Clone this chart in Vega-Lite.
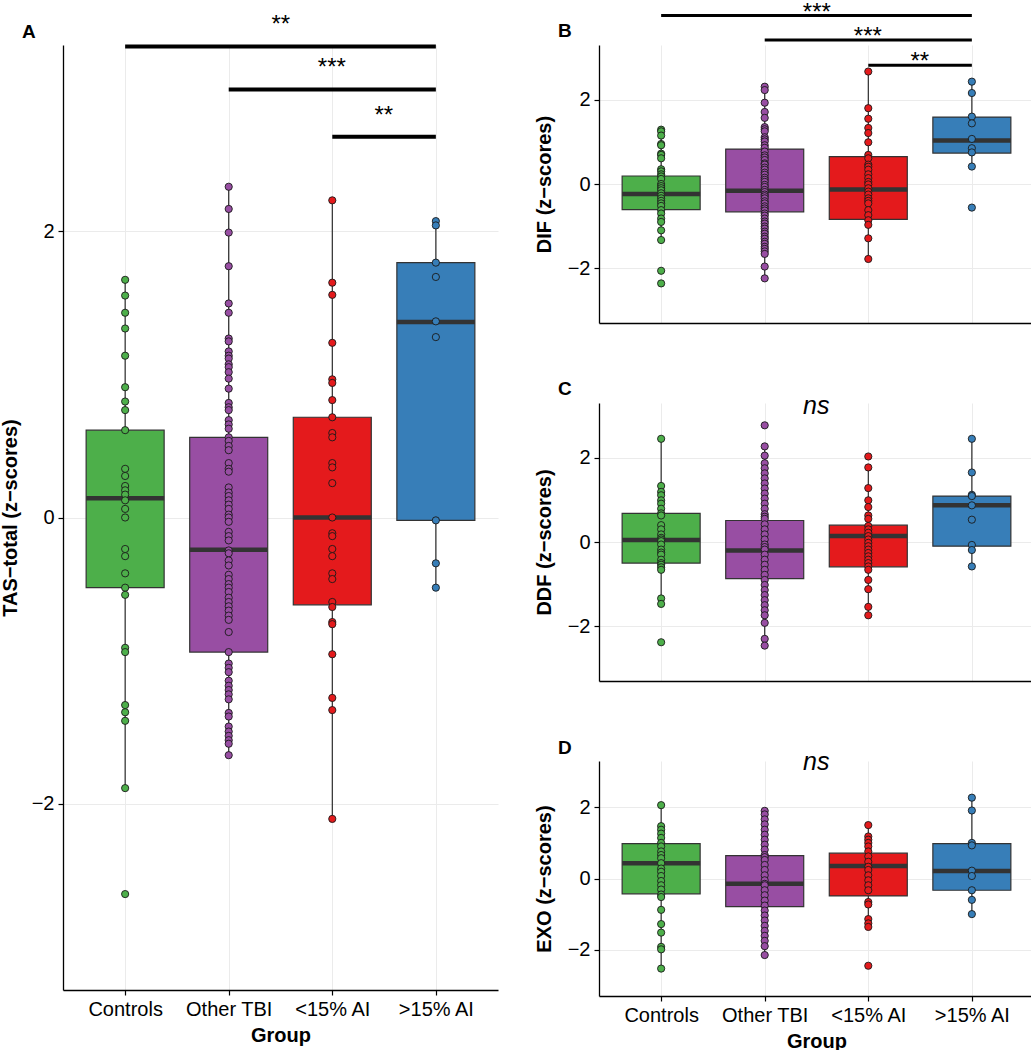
{
  "$schema": "https://vega.github.io/schema/vega-lite/v6.json",
  "padding": {"left": 0, "top": 0, "right": 0, "bottom": 0},
  "bounds": "flush",
  "spacing": 101,
  "config": {
    "font": "Liberation Sans",
    "view": {"stroke": null},
    "axis": {"domainColor": "#000000", "domainWidth": 1.3, "tickColor": "#000000", "tickWidth": 1.2, "tickSize": 5, "labelColor": "#000000", "labelFontSize": 20, "labelFont": "Liberation Sans", "titleFont": "Liberation Sans", "titleFontSize": 20, "titleFontWeight": "bold", "titleColor": "#000000", "gridColor": "#EBEBEB", "gridWidth": 1, "labelPadding": 4, "titlePadding": 13},
    "title": {"anchor": "start", "frame": "group", "dx": -41, "fontSize": 19, "fontWeight": "bold", "color": "#000000", "font": "Liberation Sans"}
  },
  "datasets": {
    "box": [
      {"panel":"A","group":"Controls","q1":-0.49,"med":0.135,"q3":0.61,"lo":-1.89,"hi":1.66},
      {"panel":"A","group":"Other TBI","q1":-0.94,"med":-0.225,"q3":0.56,"lo":-1.66,"hi":2.31},
      {"panel":"A","group":"<15% AI","q1":-0.61,"med":0.0,"q3":0.70,"lo":-2.105,"hi":2.215},
      {"panel":"A","group":">15% AI","q1":-0.02,"med":1.365,"q3":1.78,"lo":-0.49,"hi":2.07},
      {"panel":"B","group":"Controls","q1":-0.61,"med":-0.24,"q3":0.19,"lo":-1.33,"hi":1.29},
      {"panel":"B","group":"Other TBI","q1":-0.66,"med":-0.16,"q3":0.83,"lo":-2.24,"hi":2.31},
      {"panel":"B","group":"<15% AI","q1":-0.84,"med":-0.13,"q3":0.65,"lo":-1.78,"hi":2.67},
      {"panel":"B","group":">15% AI","q1":0.735,"med":1.03,"q3":1.59,"lo":0.415,"hi":2.43},
      {"panel":"C","group":"Controls","q1":-0.50,"med":0.05,"q3":0.68,"lo":-1.47,"hi":2.45},
      {"panel":"C","group":"Other TBI","q1":-0.87,"med":-0.20,"q3":0.51,"lo":-2.46,"hi":2.27},
      {"panel":"C","group":"<15% AI","q1":-0.59,"med":0.14,"q3":0.40,"lo":-1.74,"hi":1.77},
      {"panel":"C","group":">15% AI","q1":-0.10,"med":0.87,"q3":1.09,"lo":-0.58,"hi":2.45},
      {"panel":"D","group":"Controls","q1":-0.43,"med":0.43,"q3":0.98,"lo":-2.53,"hi":2.06},
      {"panel":"D","group":"Other TBI","q1":-0.79,"med":-0.15,"q3":0.64,"lo":-2.15,"hi":1.90},
      {"panel":"D","group":"<15% AI","q1":-0.49,"med":0.35,"q3":0.71,"lo":-1.36,"hi":1.50},
      {"panel":"D","group":">15% AI","q1":-0.33,"med":0.21,"q3":0.98,"lo":-1.00,"hi":2.27}
    ],
    "sig": [
      {"panel":"A","g1":"Controls","g2":">15% AI","height":3.29,"label":"**"},
      {"panel":"A","g1":"Other TBI","g2":">15% AI","height":2.99,"label":"***"},
      {"panel":"A","g1":"<15% AI","g2":">15% AI","height":2.66,"label":"**"},
      {"panel":"B","g1":"Controls","g2":">15% AI","height":4.0,"label":"***"},
      {"panel":"B","g1":"Other TBI","g2":">15% AI","height":3.42,"label":"***"},
      {"panel":"B","g1":"<15% AI","g2":">15% AI","height":2.82,"label":"**"}
    ],
    "pts": [
      {"panel":"A","group":"Controls","z":1.66},{"panel":"A","group":"Controls","z":1.55},{"panel":"A","group":"Controls","z":1.43},{"panel":"A","group":"Controls","z":1.32},{"panel":"A","group":"Controls","z":1.13},{"panel":"A","group":"Controls","z":0.91},{"panel":"A","group":"Controls","z":0.81},{"panel":"A","group":"Controls","z":0.75},{"panel":"A","group":"Controls","z":0.61},{"panel":"A","group":"Controls","z":0.34},{"panel":"A","group":"Controls","z":0.29},{"panel":"A","group":"Controls","z":0.22},{"panel":"A","group":"Controls","z":0.19},{"panel":"A","group":"Controls","z":0.16},{"panel":"A","group":"Controls","z":0.12},{"panel":"A","group":"Controls","z":0.06},{"panel":"A","group":"Controls","z":0.0},{"panel":"A","group":"Controls","z":-0.22},{"panel":"A","group":"Controls","z":-0.27},{"panel":"A","group":"Controls","z":-0.39},{"panel":"A","group":"Controls","z":-0.49},{"panel":"A","group":"Controls","z":-0.54},{"panel":"A","group":"Controls","z":-0.91},{"panel":"A","group":"Controls","z":-0.94},{"panel":"A","group":"Controls","z":-1.31},{"panel":"A","group":"Controls","z":-1.36},{"panel":"A","group":"Controls","z":-1.42},{"panel":"A","group":"Controls","z":-1.89},{"panel":"A","group":"Controls","z":-2.63},
      {"panel":"A","group":"Other TBI","z":2.31},{"panel":"A","group":"Other TBI","z":2.155},{"panel":"A","group":"Other TBI","z":1.99},{"panel":"A","group":"Other TBI","z":1.755},{"panel":"A","group":"Other TBI","z":1.495},{"panel":"A","group":"Other TBI","z":1.43},{"panel":"A","group":"Other TBI","z":1.25},{"panel":"A","group":"Other TBI","z":1.23},{"panel":"A","group":"Other TBI","z":1.16},{"panel":"A","group":"Other TBI","z":1.13},{"panel":"A","group":"Other TBI","z":1.11},{"panel":"A","group":"Other TBI","z":1.07},{"panel":"A","group":"Other TBI","z":1.05},{"panel":"A","group":"Other TBI","z":1.015},{"panel":"A","group":"Other TBI","z":0.97},{"panel":"A","group":"Other TBI","z":0.90},{"panel":"A","group":"Other TBI","z":0.80},{"panel":"A","group":"Other TBI","z":0.77},{"panel":"A","group":"Other TBI","z":0.75},{"panel":"A","group":"Other TBI","z":0.68},{"panel":"A","group":"Other TBI","z":0.65},{"panel":"A","group":"Other TBI","z":0.62},{"panel":"A","group":"Other TBI","z":0.56},{"panel":"A","group":"Other TBI","z":0.535},{"panel":"A","group":"Other TBI","z":0.50},{"panel":"A","group":"Other TBI","z":0.47},{"panel":"A","group":"Other TBI","z":0.38},{"panel":"A","group":"Other TBI","z":0.34},{"panel":"A","group":"Other TBI","z":0.32},{"panel":"A","group":"Other TBI","z":0.21},{"panel":"A","group":"Other TBI","z":0.175},{"panel":"A","group":"Other TBI","z":0.15},{"panel":"A","group":"Other TBI","z":0.12},{"panel":"A","group":"Other TBI","z":0.09},{"panel":"A","group":"Other TBI","z":0.06},{"panel":"A","group":"Other TBI","z":0.02},{"panel":"A","group":"Other TBI","z":0.0},{"panel":"A","group":"Other TBI","z":-0.03},{"panel":"A","group":"Other TBI","z":-0.10},{"panel":"A","group":"Other TBI","z":-0.13},{"panel":"A","group":"Other TBI","z":-0.16},{"panel":"A","group":"Other TBI","z":-0.23},{"panel":"A","group":"Other TBI","z":-0.25},{"panel":"A","group":"Other TBI","z":-0.30},{"panel":"A","group":"Other TBI","z":-0.335},{"panel":"A","group":"Other TBI","z":-0.40},{"panel":"A","group":"Other TBI","z":-0.43},{"panel":"A","group":"Other TBI","z":-0.465},{"panel":"A","group":"Other TBI","z":-0.49},{"panel":"A","group":"Other TBI","z":-0.52},{"panel":"A","group":"Other TBI","z":-0.56},{"panel":"A","group":"Other TBI","z":-0.59},{"panel":"A","group":"Other TBI","z":-0.62},{"panel":"A","group":"Other TBI","z":-0.65},{"panel":"A","group":"Other TBI","z":-0.685},{"panel":"A","group":"Other TBI","z":-0.715},{"panel":"A","group":"Other TBI","z":-0.80},{"panel":"A","group":"Other TBI","z":-0.94},{"panel":"A","group":"Other TBI","z":-1.02},{"panel":"A","group":"Other TBI","z":-1.05},{"panel":"A","group":"Other TBI","z":-1.08},{"panel":"A","group":"Other TBI","z":-1.14},{"panel":"A","group":"Other TBI","z":-1.175},{"panel":"A","group":"Other TBI","z":-1.205},{"panel":"A","group":"Other TBI","z":-1.235},{"panel":"A","group":"Other TBI","z":-1.27},{"panel":"A","group":"Other TBI","z":-1.365},{"panel":"A","group":"Other TBI","z":-1.39},{"panel":"A","group":"Other TBI","z":-1.46},{"panel":"A","group":"Other TBI","z":-1.495},{"panel":"A","group":"Other TBI","z":-1.525},{"panel":"A","group":"Other TBI","z":-1.555},{"panel":"A","group":"Other TBI","z":-1.58},{"panel":"A","group":"Other TBI","z":-1.66},
      {"panel":"A","group":"<15% AI","z":2.215},{"panel":"A","group":"<15% AI","z":1.64},{"panel":"A","group":"<15% AI","z":1.555},{"panel":"A","group":"<15% AI","z":1.22},{"panel":"A","group":"<15% AI","z":0.965},{"panel":"A","group":"<15% AI","z":0.94},{"panel":"A","group":"<15% AI","z":0.82},{"panel":"A","group":"<15% AI","z":0.70},{"panel":"A","group":"<15% AI","z":0.59},{"panel":"A","group":"<15% AI","z":0.56},{"panel":"A","group":"<15% AI","z":0.38},{"panel":"A","group":"<15% AI","z":0.35},{"panel":"A","group":"<15% AI","z":0.24},{"panel":"A","group":"<15% AI","z":0.0},{"panel":"A","group":"<15% AI","z":-0.11},{"panel":"A","group":"<15% AI","z":-0.13},{"panel":"A","group":"<15% AI","z":-0.22},{"panel":"A","group":"<15% AI","z":-0.27},{"panel":"A","group":"<15% AI","z":-0.39},{"panel":"A","group":"<15% AI","z":-0.43},{"panel":"A","group":"<15% AI","z":-0.59},{"panel":"A","group":"<15% AI","z":-0.625},{"panel":"A","group":"<15% AI","z":-0.73},{"panel":"A","group":"<15% AI","z":-0.745},{"panel":"A","group":"<15% AI","z":-0.955},{"panel":"A","group":"<15% AI","z":-1.26},{"panel":"A","group":"<15% AI","z":-1.345},{"panel":"A","group":"<15% AI","z":-2.105},
      {"panel":"A","group":">15% AI","z":2.07},{"panel":"A","group":">15% AI","z":2.04},{"panel":"A","group":">15% AI","z":1.78},{"panel":"A","group":">15% AI","z":1.68},{"panel":"A","group":">15% AI","z":1.37},{"panel":"A","group":">15% AI","z":1.26},{"panel":"A","group":">15% AI","z":-0.02},{"panel":"A","group":">15% AI","z":-0.32},{"panel":"A","group":">15% AI","z":-0.49},
      {"panel":"B","group":"Controls","z":1.29},{"panel":"B","group":"Controls","z":1.25},{"panel":"B","group":"Controls","z":1.15},{"panel":"B","group":"Controls","z":0.95},{"panel":"B","group":"Controls","z":0.92},{"panel":"B","group":"Controls","z":0.72},{"panel":"B","group":"Controls","z":0.69},{"panel":"B","group":"Controls","z":0.61},{"panel":"B","group":"Controls","z":0.35},{"panel":"B","group":"Controls","z":0.30},{"panel":"B","group":"Controls","z":0.23},{"panel":"B","group":"Controls","z":0.18},{"panel":"B","group":"Controls","z":0.12},{"panel":"B","group":"Controls","z":0.0},{"panel":"B","group":"Controls","z":-0.05},{"panel":"B","group":"Controls","z":-0.10},{"panel":"B","group":"Controls","z":-0.15},{"panel":"B","group":"Controls","z":-0.22},{"panel":"B","group":"Controls","z":-0.28},{"panel":"B","group":"Controls","z":-0.34},{"panel":"B","group":"Controls","z":-0.40},{"panel":"B","group":"Controls","z":-0.46},{"panel":"B","group":"Controls","z":-0.52},{"panel":"B","group":"Controls","z":-0.62},{"panel":"B","group":"Controls","z":-0.70},{"panel":"B","group":"Controls","z":-0.82},{"panel":"B","group":"Controls","z":-0.90},{"panel":"B","group":"Controls","z":-1.10},{"panel":"B","group":"Controls","z":-1.33},{"panel":"B","group":"Controls","z":-2.06},{"panel":"B","group":"Controls","z":-2.36},
      {"panel":"B","group":"Other TBI","z":2.31},{"panel":"B","group":"Other TBI","z":2.23},{"panel":"B","group":"Other TBI","z":1.93},{"panel":"B","group":"Other TBI","z":1.71},{"panel":"B","group":"Other TBI","z":1.57},{"panel":"B","group":"Other TBI","z":1.35},{"panel":"B","group":"Other TBI","z":1.30},{"panel":"B","group":"Other TBI","z":1.25},{"panel":"B","group":"Other TBI","z":1.11},{"panel":"B","group":"Other TBI","z":1.06},{"panel":"B","group":"Other TBI","z":1.01},{"panel":"B","group":"Other TBI","z":0.92},{"panel":"B","group":"Other TBI","z":0.86},{"panel":"B","group":"Other TBI","z":0.77},{"panel":"B","group":"Other TBI","z":0.68},{"panel":"B","group":"Other TBI","z":0.63},{"panel":"B","group":"Other TBI","z":0.57},{"panel":"B","group":"Other TBI","z":0.49},{"panel":"B","group":"Other TBI","z":0.46},{"panel":"B","group":"Other TBI","z":0.39},{"panel":"B","group":"Other TBI","z":0.34},{"panel":"B","group":"Other TBI","z":0.27},{"panel":"B","group":"Other TBI","z":0.22},{"panel":"B","group":"Other TBI","z":0.15},{"panel":"B","group":"Other TBI","z":0.10},{"panel":"B","group":"Other TBI","z":0.05},{"panel":"B","group":"Other TBI","z":-0.02},{"panel":"B","group":"Other TBI","z":-0.07},{"panel":"B","group":"Other TBI","z":-0.14},{"panel":"B","group":"Other TBI","z":-0.19},{"panel":"B","group":"Other TBI","z":-0.25},{"panel":"B","group":"Other TBI","z":-0.29},{"panel":"B","group":"Other TBI","z":-0.34},{"panel":"B","group":"Other TBI","z":-0.41},{"panel":"B","group":"Other TBI","z":-0.46},{"panel":"B","group":"Other TBI","z":-0.53},{"panel":"B","group":"Other TBI","z":-0.58},{"panel":"B","group":"Other TBI","z":-0.63},{"panel":"B","group":"Other TBI","z":-0.70},{"panel":"B","group":"Other TBI","z":-0.75},{"panel":"B","group":"Other TBI","z":-0.82},{"panel":"B","group":"Other TBI","z":-0.89},{"panel":"B","group":"Other TBI","z":-0.94},{"panel":"B","group":"Other TBI","z":-1.01},{"panel":"B","group":"Other TBI","z":-1.06},{"panel":"B","group":"Other TBI","z":-1.13},{"panel":"B","group":"Other TBI","z":-1.18},{"panel":"B","group":"Other TBI","z":-1.25},{"panel":"B","group":"Other TBI","z":-1.30},{"panel":"B","group":"Other TBI","z":-1.37},{"panel":"B","group":"Other TBI","z":-1.42},{"panel":"B","group":"Other TBI","z":-1.49},{"panel":"B","group":"Other TBI","z":-1.54},{"panel":"B","group":"Other TBI","z":-1.60},{"panel":"B","group":"Other TBI","z":-1.66},{"panel":"B","group":"Other TBI","z":-1.96},{"panel":"B","group":"Other TBI","z":-2.24},
      {"panel":"B","group":"<15% AI","z":2.67},{"panel":"B","group":"<15% AI","z":1.80},{"panel":"B","group":"<15% AI","z":1.55},{"panel":"B","group":"<15% AI","z":1.33},{"panel":"B","group":"<15% AI","z":1.21},{"panel":"B","group":"<15% AI","z":0.99},{"panel":"B","group":"<15% AI","z":0.69},{"panel":"B","group":"<15% AI","z":0.61},{"panel":"B","group":"<15% AI","z":0.46},{"panel":"B","group":"<15% AI","z":0.41},{"panel":"B","group":"<15% AI","z":0.34},{"panel":"B","group":"<15% AI","z":0.23},{"panel":"B","group":"<15% AI","z":0.14},{"panel":"B","group":"<15% AI","z":0.05},{"panel":"B","group":"<15% AI","z":-0.01},{"panel":"B","group":"<15% AI","z":-0.10},{"panel":"B","group":"<15% AI","z":-0.18},{"panel":"B","group":"<15% AI","z":-0.25},{"panel":"B","group":"<15% AI","z":-0.34},{"panel":"B","group":"<15% AI","z":-0.40},{"panel":"B","group":"<15% AI","z":-0.46},{"panel":"B","group":"<15% AI","z":-0.62},{"panel":"B","group":"<15% AI","z":-0.74},{"panel":"B","group":"<15% AI","z":-0.86},{"panel":"B","group":"<15% AI","z":-0.97},{"panel":"B","group":"<15% AI","z":-1.29},{"panel":"B","group":"<15% AI","z":-1.78},
      {"panel":"B","group":">15% AI","z":2.43},{"panel":"B","group":">15% AI","z":2.16},{"panel":"B","group":">15% AI","z":1.60},{"panel":"B","group":">15% AI","z":1.44},{"panel":"B","group":">15% AI","z":1.07},{"panel":"B","group":">15% AI","z":0.85},{"panel":"B","group":">15% AI","z":0.75},{"panel":"B","group":">15% AI","z":0.415},{"panel":"B","group":">15% AI","z":-0.56},
      {"panel":"C","group":"Controls","z":2.45},{"panel":"C","group":"Controls","z":1.33},{"panel":"C","group":"Controls","z":1.19},{"panel":"C","group":"Controls","z":1.11},{"panel":"C","group":"Controls","z":0.99},{"panel":"C","group":"Controls","z":0.91},{"panel":"C","group":"Controls","z":0.79},{"panel":"C","group":"Controls","z":0.68},{"panel":"C","group":"Controls","z":0.63},{"panel":"C","group":"Controls","z":0.40},{"panel":"C","group":"Controls","z":0.30},{"panel":"C","group":"Controls","z":0.18},{"panel":"C","group":"Controls","z":0.10},{"panel":"C","group":"Controls","z":0.06},{"panel":"C","group":"Controls","z":0.02},{"panel":"C","group":"Controls","z":-0.06},{"panel":"C","group":"Controls","z":-0.18},{"panel":"C","group":"Controls","z":-0.25},{"panel":"C","group":"Controls","z":-0.30},{"panel":"C","group":"Controls","z":-0.42},{"panel":"C","group":"Controls","z":-0.50},{"panel":"C","group":"Controls","z":-0.54},{"panel":"C","group":"Controls","z":-0.60},{"panel":"C","group":"Controls","z":-0.66},{"panel":"C","group":"Controls","z":-1.34},{"panel":"C","group":"Controls","z":-1.47},{"panel":"C","group":"Controls","z":-2.38},
      {"panel":"C","group":"Other TBI","z":2.77},{"panel":"C","group":"Other TBI","z":2.27},{"panel":"C","group":"Other TBI","z":2.05},{"panel":"C","group":"Other TBI","z":1.87},{"panel":"C","group":"Other TBI","z":1.75},{"panel":"C","group":"Other TBI","z":1.63},{"panel":"C","group":"Other TBI","z":1.51},{"panel":"C","group":"Other TBI","z":1.39},{"panel":"C","group":"Other TBI","z":1.27},{"panel":"C","group":"Other TBI","z":1.15},{"panel":"C","group":"Other TBI","z":1.03},{"panel":"C","group":"Other TBI","z":0.91},{"panel":"C","group":"Other TBI","z":0.79},{"panel":"C","group":"Other TBI","z":0.66},{"panel":"C","group":"Other TBI","z":0.60},{"panel":"C","group":"Other TBI","z":0.55},{"panel":"C","group":"Other TBI","z":0.42},{"panel":"C","group":"Other TBI","z":0.30},{"panel":"C","group":"Other TBI","z":0.18},{"panel":"C","group":"Other TBI","z":0.06},{"panel":"C","group":"Other TBI","z":-0.06},{"panel":"C","group":"Other TBI","z":-0.12},{"panel":"C","group":"Other TBI","z":-0.18},{"panel":"C","group":"Other TBI","z":-0.30},{"panel":"C","group":"Other TBI","z":-0.42},{"panel":"C","group":"Other TBI","z":-0.54},{"panel":"C","group":"Other TBI","z":-0.66},{"panel":"C","group":"Other TBI","z":-0.78},{"panel":"C","group":"Other TBI","z":-0.90},{"panel":"C","group":"Other TBI","z":-1.02},{"panel":"C","group":"Other TBI","z":-1.14},{"panel":"C","group":"Other TBI","z":-1.26},{"panel":"C","group":"Other TBI","z":-1.38},{"panel":"C","group":"Other TBI","z":-1.50},{"panel":"C","group":"Other TBI","z":-1.62},{"panel":"C","group":"Other TBI","z":-1.74},{"panel":"C","group":"Other TBI","z":-1.92},{"panel":"C","group":"Other TBI","z":-2.30},{"panel":"C","group":"Other TBI","z":-2.46},
      {"panel":"C","group":"<15% AI","z":2.03},{"panel":"C","group":"<15% AI","z":1.77},{"panel":"C","group":"<15% AI","z":1.28},{"panel":"C","group":"<15% AI","z":0.99},{"panel":"C","group":"<15% AI","z":0.83},{"panel":"C","group":"<15% AI","z":0.63},{"panel":"C","group":"<15% AI","z":0.55},{"panel":"C","group":"<15% AI","z":0.38},{"panel":"C","group":"<15% AI","z":0.30},{"panel":"C","group":"<15% AI","z":0.22},{"panel":"C","group":"<15% AI","z":0.14},{"panel":"C","group":"<15% AI","z":0.06},{"panel":"C","group":"<15% AI","z":-0.02},{"panel":"C","group":"<15% AI","z":-0.10},{"panel":"C","group":"<15% AI","z":-0.18},{"panel":"C","group":"<15% AI","z":-0.26},{"panel":"C","group":"<15% AI","z":-0.34},{"panel":"C","group":"<15% AI","z":-0.42},{"panel":"C","group":"<15% AI","z":-0.50},{"panel":"C","group":"<15% AI","z":-0.58},{"panel":"C","group":"<15% AI","z":-0.66},{"panel":"C","group":"<15% AI","z":-0.90},{"panel":"C","group":"<15% AI","z":-1.12},{"panel":"C","group":"<15% AI","z":-1.54},{"panel":"C","group":"<15% AI","z":-1.74},
      {"panel":"C","group":">15% AI","z":2.45},{"panel":"C","group":">15% AI","z":1.65},{"panel":"C","group":">15% AI","z":1.12},{"panel":"C","group":">15% AI","z":1.09},{"panel":"C","group":">15% AI","z":0.87},{"panel":"C","group":">15% AI","z":0.53},{"panel":"C","group":">15% AI","z":-0.07},{"panel":"C","group":">15% AI","z":-0.19},{"panel":"C","group":">15% AI","z":-0.58},
      {"panel":"D","group":"Controls","z":2.06},{"panel":"D","group":"Controls","z":1.47},{"panel":"D","group":"Controls","z":1.37},{"panel":"D","group":"Controls","z":1.26},{"panel":"D","group":"Controls","z":1.14},{"panel":"D","group":"Controls","z":1.00},{"panel":"D","group":"Controls","z":0.90},{"panel":"D","group":"Controls","z":0.76},{"panel":"D","group":"Controls","z":0.66},{"panel":"D","group":"Controls","z":0.57},{"panel":"D","group":"Controls","z":0.43},{"panel":"D","group":"Controls","z":0.28},{"panel":"D","group":"Controls","z":0.19},{"panel":"D","group":"Controls","z":0.07},{"panel":"D","group":"Controls","z":-0.07},{"panel":"D","group":"Controls","z":-0.19},{"panel":"D","group":"Controls","z":-0.31},{"panel":"D","group":"Controls","z":-0.45},{"panel":"D","group":"Controls","z":-0.52},{"panel":"D","group":"Controls","z":-0.88},{"panel":"D","group":"Controls","z":-1.28},{"panel":"D","group":"Controls","z":-1.52},{"panel":"D","group":"Controls","z":-1.92},{"panel":"D","group":"Controls","z":-1.99},{"panel":"D","group":"Controls","z":-2.53},
      {"panel":"D","group":"Other TBI","z":1.90},{"panel":"D","group":"Other TBI","z":1.80},{"panel":"D","group":"Other TBI","z":1.66},{"panel":"D","group":"Other TBI","z":1.52},{"panel":"D","group":"Other TBI","z":1.37},{"panel":"D","group":"Other TBI","z":1.23},{"panel":"D","group":"Other TBI","z":1.09},{"panel":"D","group":"Other TBI","z":0.95},{"panel":"D","group":"Other TBI","z":0.81},{"panel":"D","group":"Other TBI","z":0.66},{"panel":"D","group":"Other TBI","z":0.60},{"panel":"D","group":"Other TBI","z":0.52},{"panel":"D","group":"Other TBI","z":0.38},{"panel":"D","group":"Other TBI","z":0.24},{"panel":"D","group":"Other TBI","z":0.09},{"panel":"D","group":"Other TBI","z":-0.05},{"panel":"D","group":"Other TBI","z":-0.15},{"panel":"D","group":"Other TBI","z":-0.19},{"panel":"D","group":"Other TBI","z":-0.33},{"panel":"D","group":"Other TBI","z":-0.47},{"panel":"D","group":"Other TBI","z":-0.62},{"panel":"D","group":"Other TBI","z":-0.76},{"panel":"D","group":"Other TBI","z":-0.90},{"panel":"D","group":"Other TBI","z":-1.04},{"panel":"D","group":"Other TBI","z":-1.18},{"panel":"D","group":"Other TBI","z":-1.33},{"panel":"D","group":"Other TBI","z":-1.47},{"panel":"D","group":"Other TBI","z":-1.61},{"panel":"D","group":"Other TBI","z":-1.75},{"panel":"D","group":"Other TBI","z":-1.90},{"panel":"D","group":"Other TBI","z":-2.15},
      {"panel":"D","group":"<15% AI","z":1.50},{"panel":"D","group":"<15% AI","z":1.18},{"panel":"D","group":"<15% AI","z":1.09},{"panel":"D","group":"<15% AI","z":1.00},{"panel":"D","group":"<15% AI","z":0.90},{"panel":"D","group":"<15% AI","z":0.76},{"panel":"D","group":"<15% AI","z":0.62},{"panel":"D","group":"<15% AI","z":0.47},{"panel":"D","group":"<15% AI","z":0.33},{"panel":"D","group":"<15% AI","z":0.24},{"panel":"D","group":"<15% AI","z":0.09},{"panel":"D","group":"<15% AI","z":-0.05},{"panel":"D","group":"<15% AI","z":-0.19},{"panel":"D","group":"<15% AI","z":-0.33},{"panel":"D","group":"<15% AI","z":-0.66},{"panel":"D","group":"<15% AI","z":-0.73},{"panel":"D","group":"<15% AI","z":-1.14},{"panel":"D","group":"<15% AI","z":-1.26},{"panel":"D","group":"<15% AI","z":-1.36},{"panel":"D","group":"<15% AI","z":-2.45},
      {"panel":"D","group":">15% AI","z":2.27},{"panel":"D","group":">15% AI","z":1.91},{"panel":"D","group":">15% AI","z":1.00},{"panel":"D","group":">15% AI","z":0.93},{"panel":"D","group":">15% AI","z":0.22},{"panel":"D","group":">15% AI","z":0.07},{"panel":"D","group":">15% AI","z":-0.33},{"panel":"D","group":">15% AI","z":-0.60},{"panel":"D","group":">15% AI","z":-1.00}
    ]
  },
  "hconcat": [
    {
      "title": {"text": "A", "offset": -29},
      "width": 435, "height": 945,
      "layer": [
        {"data": {"name": "box"}, "transform": [{"filter": "datum.panel === 'A'"}],
         "mark": {"type": "rule", "color": "#1a1a1a", "strokeWidth": 1.1},
         "encoding": {
           "x": {"field": "group", "type": "nominal", "sort": null, "scale": {"type": "point", "padding": 0.6, "domain": ["Controls", "Other TBI", "<15% AI", ">15% AI"]}, "axis": {"title": "Group", "grid": true, "labelAngle": 0, "labelPadding": 4, "titlePadding": 6}},
           "y": {"field": "lo", "type": "quantitative", "scale": {"domain": [-3.3, 3.3], "nice": false, "zero": false}, "axis": {"title": "TAS−total (z−scores)", "values": [-2, 0, 2], "format": "d", "grid": true, "titlePadding": 11}},
           "y2": {"field": "hi"}}},
        {"data": {"name": "box"}, "transform": [{"filter": "datum.panel === 'A'"}],
         "mark": {"type": "bar", "width": 78, "stroke": "#333333", "strokeWidth": 1.2, "opacity": 1},
         "encoding": {
           "x": {"field": "group", "type": "nominal", "sort": null},
           "y": {"field": "q1", "type": "quantitative"}, "y2": {"field": "q3"},
           "color": {"field": "group", "type": "nominal", "scale": {"domain": ["Controls", "Other TBI", "<15% AI", ">15% AI"], "range": ["#4DAF4A", "#984EA3", "#E41A1C", "#377EB8"]}, "legend": null}}},
        {"data": {"name": "box"}, "transform": [{"filter": "datum.panel === 'A'"}],
         "mark": {"type": "tick", "color": "#333333", "size": 78, "thickness": 4.5, "opacity": 1},
         "encoding": {"x": {"field": "group", "type": "nominal", "sort": null}, "y": {"field": "med", "type": "quantitative"}}},
        {"data": {"name": "pts"}, "transform": [{"filter": "datum.panel === 'A'"}],
         "mark": {"type": "circle", "size": 52, "stroke": "#1a1a1a", "strokeWidth": 0.9, "opacity": 1},
         "encoding": {"x": {"field": "group", "type": "nominal", "sort": null}, "y": {"field": "z", "type": "quantitative"},
           "color": {"field": "group", "type": "nominal", "legend": null}}},
        {"data": {"name": "sig"}, "transform": [{"filter": "datum.panel === 'A'"}],
         "mark": {"type": "rule", "color": "#000000", "strokeWidth": 4},
         "encoding": {"x": {"field": "g1", "type": "nominal", "sort": null}, "x2": {"field": "g2"}, "y": {"field": "height", "type": "quantitative"}}},
        {"data": {"name": "sig"}, "transform": [{"filter": "datum.panel === 'A' && datum.g1 === 'Controls'"}],
         "mark": {"type": "text", "fontSize": 24, "dx": -155, "dy": -14, "baseline": "alphabetic", "align": "center", "color": "#000000"},
         "encoding": {"x": {"field": "g2", "type": "nominal", "sort": null}, "y": {"field": "height", "type": "quantitative"}, "text": {"field": "label"}}},
        {"data": {"name": "sig"}, "transform": [{"filter": "datum.panel === 'A' && datum.g1 === 'Other TBI'"}],
         "mark": {"type": "text", "fontSize": 24, "dx": -104, "dy": -14, "baseline": "alphabetic", "align": "center", "color": "#000000"},
         "encoding": {"x": {"field": "g2", "type": "nominal", "sort": null}, "y": {"field": "height", "type": "quantitative"}, "text": {"field": "label"}}},
        {"data": {"name": "sig"}, "transform": [{"filter": "datum.panel === 'A' && datum.g1 === '<15% AI'"}],
         "mark": {"type": "text", "fontSize": 24, "dx": -52, "dy": -14, "baseline": "alphabetic", "align": "center", "color": "#000000"},
         "encoding": {"x": {"field": "g2", "type": "nominal", "sort": null}, "y": {"field": "height", "type": "quantitative"}, "text": {"field": "label"}}}
      ]
    },
    {
      "bounds": "flush",
      "spacing": 80,
      "vconcat": [
        {
          "title": {"text": "B", "offset": -40},
          "width": 435, "height": 278,
          "layer": [
            {"data": {"name": "box"}, "transform": [{"filter": "datum.panel === 'B'"}],
             "mark": {"type": "rule", "color": "#1a1a1a", "strokeWidth": 1.1},
             "encoding": {
               "x": {"field": "group", "type": "nominal", "sort": null, "scale": {"type": "point", "padding": 0.6, "domain": ["Controls", "Other TBI", "<15% AI", ">15% AI"]}, "axis": {"title": null, "grid": true, "labels": false, "ticks": false}},
               "y": {"field": "lo", "type": "quantitative", "scale": {"domain": [-3.3, 3.3], "nice": false, "zero": false}, "axis": {"title": "DIF (z−scores)", "values": [-2, 0, 2], "format": "d", "grid": true}},
               "y2": {"field": "hi"}}},
            {"data": {"name": "box"}, "transform": [{"filter": "datum.panel === 'B'"}],
             "mark": {"type": "bar", "width": 78, "stroke": "#333333", "strokeWidth": 1.2, "opacity": 1},
             "encoding": {
               "x": {"field": "group", "type": "nominal", "sort": null},
               "y": {"field": "q1", "type": "quantitative"}, "y2": {"field": "q3"},
               "color": {"field": "group", "type": "nominal", "scale": {"domain": ["Controls", "Other TBI", "<15% AI", ">15% AI"], "range": ["#4DAF4A", "#984EA3", "#E41A1C", "#377EB8"]}, "legend": null}}},
            {"data": {"name": "box"}, "transform": [{"filter": "datum.panel === 'B'"}],
             "mark": {"type": "tick", "color": "#333333", "size": 78, "thickness": 4.5, "opacity": 1},
             "encoding": {"x": {"field": "group", "type": "nominal", "sort": null}, "y": {"field": "med", "type": "quantitative"}}},
            {"data": {"name": "pts"}, "transform": [{"filter": "datum.panel === 'B'"}],
             "mark": {"type": "circle", "size": 52, "stroke": "#1a1a1a", "strokeWidth": 0.9, "opacity": 1},
             "encoding": {"x": {"field": "group", "type": "nominal", "sort": null}, "y": {"field": "z", "type": "quantitative"},
               "color": {"field": "group", "type": "nominal", "legend": null}}},
            {"data": {"name": "sig"}, "transform": [{"filter": "datum.panel === 'B'"}],
             "mark": {"type": "rule", "color": "#000000", "strokeWidth": 3},
             "encoding": {"x": {"field": "g1", "type": "nominal", "sort": null}, "x2": {"field": "g2"}, "y": {"field": "height", "type": "quantitative"}}},
            {"data": {"name": "sig"}, "transform": [{"filter": "datum.panel === 'B' && datum.g1 === 'Controls'"}],
             "mark": {"type": "text", "fontSize": 24, "dx": -155, "dy": 4, "baseline": "alphabetic", "align": "center", "color": "#000000"},
             "encoding": {"x": {"field": "g2", "type": "nominal", "sort": null}, "y": {"field": "height", "type": "quantitative"}, "text": {"field": "label"}}},
            {"data": {"name": "sig"}, "transform": [{"filter": "datum.panel === 'B' && datum.g1 === 'Other TBI'"}],
             "mark": {"type": "text", "fontSize": 24, "dx": -104, "dy": 4, "baseline": "alphabetic", "align": "center", "color": "#000000"},
             "encoding": {"x": {"field": "g2", "type": "nominal", "sort": null}, "y": {"field": "height", "type": "quantitative"}, "text": {"field": "label"}}},
            {"data": {"name": "sig"}, "transform": [{"filter": "datum.panel === 'B' && datum.g1 === '<15% AI'"}],
             "mark": {"type": "text", "fontSize": 24, "dx": -52, "dy": 4, "baseline": "alphabetic", "align": "center", "color": "#000000"},
             "encoding": {"x": {"field": "g2", "type": "nominal", "sort": null}, "y": {"field": "height", "type": "quantitative"}, "text": {"field": "label"}}}
          ]
        },
        {
          "title": {"text": "C", "offset": -5},
          "width": 435, "height": 278,
          "layer": [
            {"data": {"name": "box"}, "transform": [{"filter": "datum.panel === 'C'"}],
             "mark": {"type": "rule", "color": "#1a1a1a", "strokeWidth": 1.1},
             "encoding": {
               "x": {"field": "group", "type": "nominal", "sort": null, "scale": {"type": "point", "padding": 0.6, "domain": ["Controls", "Other TBI", "<15% AI", ">15% AI"]}, "axis": {"title": null, "grid": true, "labels": false, "ticks": false}},
               "y": {"field": "lo", "type": "quantitative", "scale": {"domain": [-3.3, 3.3], "nice": false, "zero": false}, "axis": {"title": "DDF (z−scores)", "values": [-2, 0, 2], "format": "d", "grid": true}},
               "y2": {"field": "hi"}}},
            {"data": {"name": "box"}, "transform": [{"filter": "datum.panel === 'C'"}],
             "mark": {"type": "bar", "width": 78, "stroke": "#333333", "strokeWidth": 1.2, "opacity": 1},
             "encoding": {
               "x": {"field": "group", "type": "nominal", "sort": null},
               "y": {"field": "q1", "type": "quantitative"}, "y2": {"field": "q3"},
               "color": {"field": "group", "type": "nominal", "scale": {"domain": ["Controls", "Other TBI", "<15% AI", ">15% AI"], "range": ["#4DAF4A", "#984EA3", "#E41A1C", "#377EB8"]}, "legend": null}}},
            {"data": {"name": "box"}, "transform": [{"filter": "datum.panel === 'C'"}],
             "mark": {"type": "tick", "color": "#333333", "size": 78, "thickness": 4.5, "opacity": 1},
             "encoding": {"x": {"field": "group", "type": "nominal", "sort": null}, "y": {"field": "med", "type": "quantitative"}}},
            {"data": {"name": "pts"}, "transform": [{"filter": "datum.panel === 'C'"}],
             "mark": {"type": "circle", "size": 52, "stroke": "#1a1a1a", "strokeWidth": 0.9, "opacity": 1},
             "encoding": {"x": {"field": "group", "type": "nominal", "sort": null}, "y": {"field": "z", "type": "quantitative"},
               "color": {"field": "group", "type": "nominal", "legend": null}}},
            {"data": {"values": [{"label": "ns"}]},
             "mark": {"type": "text", "fontSize": 25, "fontStyle": "italic", "dx": -52, "baseline": "middle", "align": "center", "color": "#000000"},
             "encoding": {"x": {"datum": "<15% AI", "type": "nominal"}, "y": {"datum": 3.23, "type": "quantitative"}, "text": {"field": "label"}}}
          ]
        },
        {
          "title": {"text": "D", "offset": -8},
          "width": 435, "height": 235,
          "layer": [
            {"data": {"name": "box"}, "transform": [{"filter": "datum.panel === 'D'"}],
             "mark": {"type": "rule", "color": "#1a1a1a", "strokeWidth": 1.1},
             "encoding": {
               "x": {"field": "group", "type": "nominal", "sort": null, "scale": {"type": "point", "padding": 0.6, "domain": ["Controls", "Other TBI", "<15% AI", ">15% AI"]}, "axis": {"title": "Group", "grid": true, "labelAngle": 0, "labelPadding": 4, "titlePadding": 6}},
               "y": {"field": "lo", "type": "quantitative", "scale": {"domain": [-3.3, 3.3], "nice": false, "zero": false}, "axis": {"title": "EXO (z−scores)", "values": [-2, 0, 2], "format": "d", "grid": true}},
               "y2": {"field": "hi"}}},
            {"data": {"name": "box"}, "transform": [{"filter": "datum.panel === 'D'"}],
             "mark": {"type": "bar", "width": 78, "stroke": "#333333", "strokeWidth": 1.2, "opacity": 1},
             "encoding": {
               "x": {"field": "group", "type": "nominal", "sort": null},
               "y": {"field": "q1", "type": "quantitative"}, "y2": {"field": "q3"},
               "color": {"field": "group", "type": "nominal", "scale": {"domain": ["Controls", "Other TBI", "<15% AI", ">15% AI"], "range": ["#4DAF4A", "#984EA3", "#E41A1C", "#377EB8"]}, "legend": null}}},
            {"data": {"name": "box"}, "transform": [{"filter": "datum.panel === 'D'"}],
             "mark": {"type": "tick", "color": "#333333", "size": 78, "thickness": 4.5, "opacity": 1},
             "encoding": {"x": {"field": "group", "type": "nominal", "sort": null}, "y": {"field": "med", "type": "quantitative"}}},
            {"data": {"name": "pts"}, "transform": [{"filter": "datum.panel === 'D'"}],
             "mark": {"type": "circle", "size": 52, "stroke": "#1a1a1a", "strokeWidth": 0.9, "opacity": 1},
             "encoding": {"x": {"field": "group", "type": "nominal", "sort": null}, "y": {"field": "z", "type": "quantitative"},
               "color": {"field": "group", "type": "nominal", "legend": null}}},
            {"data": {"values": [{"label": "ns"}]},
             "mark": {"type": "text", "fontSize": 25, "fontStyle": "italic", "dx": -52, "baseline": "middle", "align": "center", "color": "#000000"},
             "encoding": {"x": {"datum": "<15% AI", "type": "nominal"}, "y": {"datum": 3.27, "type": "quantitative"}, "text": {"field": "label"}}}
          ]
        }
      ]
    }
  ]
}
